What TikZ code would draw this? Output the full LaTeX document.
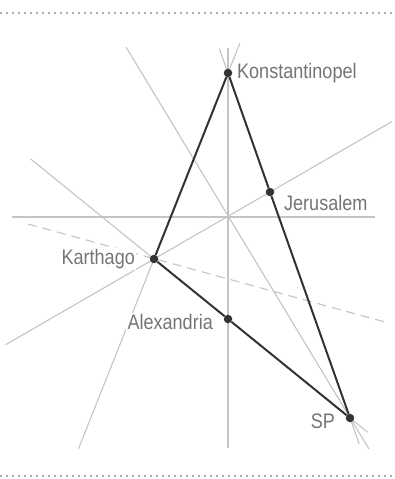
\documentclass[tikz,border=0pt]{standalone}
\usepackage{fontspec}
\setmainfont{Liberation Sans}[FakeStretch=0.86]
\usetikzlibrary{positioning,calc,backgrounds}
\definecolor{inkdark}{HTML}{333333}
\definecolor{guidegray}{HTML}{C4C4C4}
\definecolor{labelgray}{HTML}{757575}
\definecolor{dotgray}{HTML}{ADADAD}

\begin{document}
\begin{tikzpicture}[x=1pt, y=-1pt,
    city/.style={circle, fill=inkdark, inner sep=0pt, minimum size=8.5pt},
    lbl/.style={fill=white, inner sep=1.5pt, text=labelgray, font=\fontsize{21}{23}\selectfont},
    guide/.style={guidegray, line width=1.1pt},
    route/.style={inkdark, line width=2pt},
    rulerdots/.style={dotgray, line width=1.6pt, dash pattern=on 1.6pt off 4.4pt}
  ]
    \useasboundingbox (0,0) rectangle (395,479);

    % cities
    \node[city] (konst) at (228,73) {};
    \node[city] (jer) at (270,192) {};
    \node[city] (kar) at (154,259) {};
    \node[city] (alex) at (228,319) {};
    \node[city] (sp) at (350,418) {};

    \node[lbl, right=3pt of konst] (konstlbl) {Konstantinopel};
    \node[lbl, right=8pt of jer, yshift=-11pt] (jerlbl) {Jerusalem};
    \node[lbl, left=13pt of kar] (karlbl) {Karthago};
    \node[lbl, left=9pt of alex, yshift=-3pt] (alexlbl) {Alexandria};
    \node[lbl, left=9pt of sp, yshift=-3pt] (splbl) {SP};

    % free ends of the guide lines
    \coordinate (vtop) at (228,48);
    \coordinate (vbot) at (228,448);
    \coordinate (hleft) at (12,217);
    \coordinate (hright) at (375,217);
    \coordinate (diagtop) at (126,47);
    \coordinate (diagbot) at (369,449);
    \coordinate (dashleft) at (28,224);
    \coordinate (dashright) at (385,322);

    \begin{scope}[on background layer]
      \draw[guide] (vtop) -- (vbot);
      \draw[guide] (hleft) -- (hright);
      \draw[guide] (diagtop) -- (diagbot);
      \draw[guide] ($(kar)!-1.28!(jer)$) -- ($(kar)!2.05!(jer)$);
      \draw[guide] ($(konst)!-0.16!(kar)$) -- ($(kar)!-1.02!(konst)$);
      \draw[guide] ($(konst)!-0.07!(sp)$) -- ($(sp)!-0.075!(konst)$);
      \draw[guide] ($(kar)!-0.63!(sp)$) -- ($(sp)!-0.09!(kar)$);
      \draw[guide, dash pattern=on 9pt off 6pt] (dashleft) -- (dashright);

      \draw[route] (konst) -- (kar) -- (alex) -- (sp) -- (jer) -- (konst);
    \end{scope}

    % dotted rules
    \draw[rulerdots] (0,13) -- (395,13);
    \draw[rulerdots] (0,476) -- (395,476);
  \end{tikzpicture}
\end{document}
